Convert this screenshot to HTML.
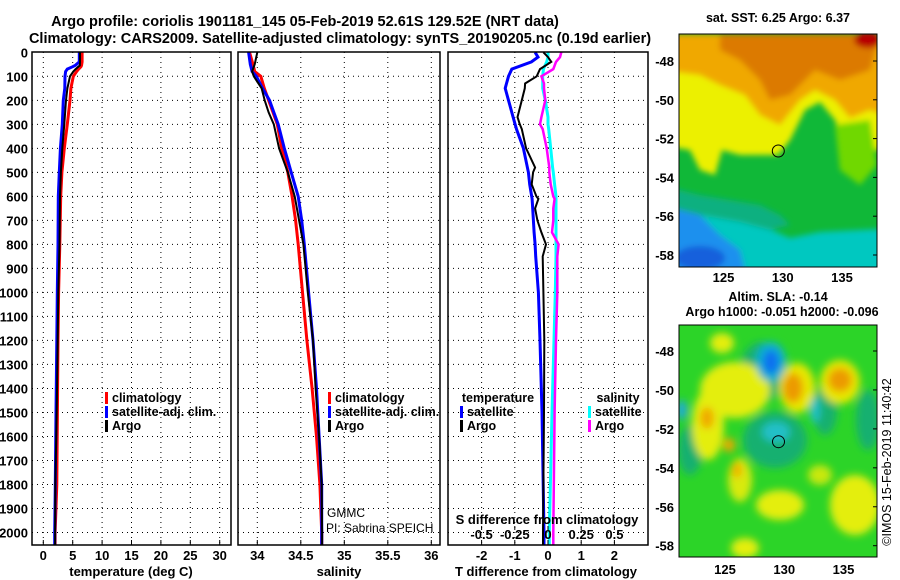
<!DOCTYPE html>
<html><head><meta charset="utf-8">
<style>
html,body{margin:0;padding:0;background:#fff;}
svg{display:block;font-family:"Liberation Sans",Arial,sans-serif;}
.b{font-weight:bold;}
</style></head>
<body>
<svg id="chart" width="900" height="580" viewBox="0 0 900 580" xmlns="http://www.w3.org/2000/svg">
<defs>
<filter id="bl" x="-20%" y="-20%" width="140%" height="140%"><feGaussianBlur stdDeviation="3"/></filter>
<filter id="bl2" x="-20%" y="-20%" width="140%" height="140%"><feGaussianBlur stdDeviation="4"/></filter>
<clipPath id="c1"><rect x="679" y="34" width="198" height="233"/></clipPath>
<clipPath id="c2"><rect x="679" y="325" width="198" height="232"/></clipPath>
<clipPath id="p1c"><rect x="32" y="52" width="199" height="493"/></clipPath>
<clipPath id="p2c"><rect x="238" y="52" width="202" height="493"/></clipPath>
<clipPath id="p3c"><rect x="448" y="52" width="200" height="493"/></clipPath>
</defs>
<text class="b" x="305" y="26" font-size="14.5" text-anchor="middle">Argo profile: coriolis 1901181_145 05-Feb-2019 52.61S 129.52E (NRT data)</text>
<text class="b" x="340" y="43" font-size="14.5" text-anchor="middle">Climatology: CARS2009. Satellite-adjusted climatology: synTS_20190205.nc (0.19d earlier)</text>
<g id="grid"></g>
<g id="series"></g>
<g id="frames"></g>
<g id="labels"></g>

<!-- map 1 : SST -->
<text class="b" x="778" y="22" font-size="12.5" text-anchor="middle">sat. SST: 6.25 Argo: 6.37</text>
<g clip-path="url(#c1)">
<rect x="679" y="34" width="198" height="233" fill="#10b838"/>
<g filter="url(#bl)">
<path d="M660,200 L700,205 L730,215 L760,225 L790,238 L820,232 L900,228 L900,290 L660,290Z" fill="#00c8c0"/>
<path d="M660,185 L700,195 L730,200 L760,205 L780,215 L790,225 L770,230 L740,222 L700,215 L660,215Z" fill="#10b080"/>
<path d="M660,205 L700,215 L720,235 L740,250 L750,290 L660,290Z" fill="#1f90ee"/>
<ellipse cx="700" cy="258" rx="25" ry="12" fill="#1460dc"/>
<path d="M660,60 L900,60 L900,150 L860,150 L845,145 L835,120 L820,102 L805,110 L790,140 L778,155 L740,155 L722,150 L715,175 L700,170 L690,150 L660,145Z" fill="#ecf000"/>
<path d="M835,125 L870,120 L877,165 L860,185 L840,170Z" fill="#70d800"/>
<path d="M660,34 L900,34 L900,120 L870,110 L850,118 L835,100 L815,90 L800,100 L780,125 L760,115 L745,95 L720,85 L700,75 L660,70Z" fill="#f0a800"/>
<path d="M720,34 L880,34 L870,70 L840,80 L815,70 L790,95 L770,100 L760,80 L740,60 L720,50Z" fill="#dc7a00"/>
<ellipse cx="868" cy="40" rx="14" ry="8" fill="#b80000"/>
</g>
<circle cx="778.3" cy="151" r="6" fill="none" stroke="#000" stroke-width="1"/>
</g>
<rect x="679" y="34" width="198" height="233" fill="none" stroke="#000" stroke-width="1"/>

<!-- map 2 : SLA -->
<text class="b" x="778" y="301" font-size="12.5" text-anchor="middle">Altim. SLA: -0.14</text>
<text class="b" x="782" y="316" font-size="12.5" text-anchor="middle">Argo h1000: -0.051 h2000: -0.096</text>
<g clip-path="url(#c2)">
<rect x="679" y="325" width="198" height="232" fill="#2cd428"/>
<g filter="url(#bl2)">
<ellipse cx="775" cy="440" rx="32" ry="28" fill="#18b070"/>
<ellipse cx="762" cy="372" rx="22" ry="30" fill="#18b070"/>
<ellipse cx="825" cy="410" rx="12" ry="25" fill="#18b070"/>
<ellipse cx="690" cy="450" rx="12" ry="25" fill="#18b070"/>
<ellipse cx="868" cy="420" rx="12" ry="30" fill="#18b070"/>
<ellipse cx="735" cy="390" rx="35" ry="28" fill="#e4ee10"/>
<ellipse cx="708" cy="425" rx="16" ry="35" fill="#e4ee10"/>
<ellipse cx="740" cy="480" rx="12" ry="22" fill="#d8ea10"/>
<ellipse cx="855" cy="505" rx="25" ry="30" fill="#e4ee10"/>
<ellipse cx="780" cy="505" rx="24" ry="15" fill="#e4ee10"/>
<ellipse cx="820" cy="475" rx="12" ry="10" fill="#c8e810"/>
<ellipse cx="745" cy="548" rx="14" ry="10" fill="#e4ee10"/>
<ellipse cx="722" cy="343" rx="12" ry="10" fill="#e4ee10"/>
<ellipse cx="797" cy="388" rx="18" ry="25" fill="#e8e800"/>
<ellipse cx="840" cy="382" rx="20" ry="22" fill="#e8e800"/>
<ellipse cx="793" cy="388" rx="10" ry="15" fill="#ec9a00"/>
<ellipse cx="840" cy="380" rx="12" ry="12" fill="#ec9a00"/>
<ellipse cx="707" cy="418" rx="7" ry="11" fill="#f0a800"/>
<ellipse cx="729" cy="445" rx="6" ry="7" fill="#f0a800"/>
<ellipse cx="737" cy="470" rx="5" ry="8" fill="#f0b000"/>
<ellipse cx="771" cy="362" rx="15" ry="20" fill="#10b0d0"/>
<ellipse cx="771" cy="362" rx="8" ry="12" fill="#1070f0"/>
<ellipse cx="776" cy="432" rx="14" ry="10" fill="#20c0c8"/>
<ellipse cx="815" cy="410" rx="5" ry="13" fill="#20c0c8"/>
<ellipse cx="682" cy="410" rx="5" ry="10" fill="#20a8e0"/>
</g>
<circle cx="778.5" cy="441.7" r="6" fill="none" stroke="#000" stroke-width="1"/>
</g>
<rect x="679" y="325" width="198" height="232" fill="none" stroke="#000" stroke-width="1"/>
<text x="891" y="462" font-size="12.5" text-anchor="middle" transform="rotate(-90 891 462)">©IMOS 15-Feb-2019 11:40:42</text>
<g id="maplabels"></g>
</svg>
<script>
// ---- data ----
const depthT = [0,40,55,60,70,80,100,150,200,300,400,500,600,800,1000,1200,1500,1800,2000,2050];
const tempArgo = [6.25,6.25,6.2,5.95,5.5,5.1,4.54,4.1,3.86,3.57,3.23,3.0,2.84,2.75,2.55,2.45,2.28,2.04,2.0,2.0];
const tempClim = [6.6,6.6,6.5,6.4,6.0,5.67,5.1,4.7,4.54,4.08,3.57,3.17,2.96,2.8,2.6,2.5,2.4,2.3,2.0,2.0];
const tempSat = [6.13,6.13,5.4,5.0,4.08,3.8,3.69,3.65,3.4,3.23,2.9,2.72,2.55,2.5,2.38,2.3,2.16,2.04,1.94,1.94];
const depthS = [0,50,80,100,150,200,250,300,400,450,500,600,700,800,1000,1200,1400,1600,1800,2000,2050];
const salArgo = [34.0,33.97,33.94,33.96,34.05,34.085,34.13,34.19,34.25,34.3,34.35,34.43,34.48,34.53,34.58,34.64,34.67,34.71,34.74,34.745,34.745];
const salClim = [33.91,33.95,33.97,34.04,34.08,34.13,34.18,34.23,34.28,34.32,34.35,34.40,34.44,34.47,34.52,34.57,34.63,34.68,34.72,34.74,34.74];
const salSat = [33.9,33.92,33.94,33.99,34.06,34.14,34.19,34.24,34.31,34.35,34.39,34.47,34.51,34.54,34.59,34.64,34.68,34.71,34.74,34.74,34.74];
const depthD = [0,20,40,70,100,130,150,200,270,300,320,400,480,500,550,600,610,650,700,750,800,850,1000,1200,1500,2000,2050];
const dTArgo = [-0.14,0,0.1,-0.24,-0.34,-0.69,-0.7,-0.79,-0.92,-0.85,-0.79,-0.66,-0.39,-0.45,-0.49,-0.35,-0.29,-0.39,-0.32,-0.2,-0.06,-0.16,-0.14,-0.11,-0.12,-0.15,-0.15];
const dTSat = [-0.39,-0.3,-0.5,-1.09,-1.19,-1.25,-1.29,-1.19,-1.05,-0.99,-0.95,-0.74,-0.62,-0.59,-0.55,-0.49,-0.48,-0.46,-0.44,-0.42,-0.39,-0.37,-0.29,-0.24,-0.18,-0.12,-0.12];
const dSArgo = [0.10,0.09,0.06,0.04,-0.05,-0.03,-0.03,-0.02,-0.05,-0.06,-0.04,-0.01,0.01,0.01,0.02,0.04,0.05,0.04,0.04,0.03,0.08,0.07,0.07,0.06,0.05,0.04,0.04];
const dSSat = [0,0,-0.01,-0.035,-0.04,-0.04,-0.04,-0.02,0,0,0.005,0.02,0.035,0.04,0.05,0.06,0.06,0.06,0.06,0.06,0.06,0.06,0.055,0.045,0.03,0.01,0.01];
const depthTicks = [0,100,200,300,400,500,600,700,800,900,1000,1100,1200,1300,1400,1500,1600,1700,1800,1900,2000];
const tempTicks = [0,5,10,15,20,25,30];
const salTicks = [34,34.5,35,35.5,36];
const salTickLabels = ["34","34.5","35","35.5","36"];
const dTTicks = [-2,-1,0,1,2];
const dSTicks = [-0.5,-0.25,0,0.25,0.5];
const dSTickLabels = ["-0.5","-0.25","0","0.25","0.5"];
const latTicks = [-48,-50,-52,-54,-56,-58];
const lonTicks = [125,130,135];

// ---- scales ----
const yD = d => 52.3 + d*0.2401;
const xT = v => 43.3 + v*5.88;
const xS = v => 257.3 + (v-34)*87;
const xdT = v => 548 + v*33.2;
const xdS = v => 548 + v*132.8;
const lon1 = v => 723.5 + (v-125)*11.85;
const lat1 = v => 61 + (-48 - v)*19.4;
const lat2 = v => 351 + (-48 - v)*19.47;

const NS = "http://www.w3.org/2000/svg";
function mk(tag, attrs, parent, txt){
  const e = document.createElementNS(NS, tag);
  for (const k in attrs) e.setAttribute(k, attrs[k]);
  if (txt !== undefined) e.textContent = txt;
  parent.appendChild(e);
  return e;
}
const G = document.getElementById('grid'), S = document.getElementById('series'),
      F = document.getElementById('frames'), L = document.getElementById('labels'),
      M = document.getElementById('maplabels');
const panels = [{x0:32,x1:231},{x0:238,x1:440},{x0:448,x1:648}];
const yTop=52, yBot=545;
const dot = {stroke:'#000','stroke-width':1,'stroke-dasharray':'1 4'};
panels.forEach((p,i)=>{
  depthTicks.forEach(d=>{ if(d>0){ const l=mk('line',Object.assign({x1:p.x0,x2:p.x1,y1:yD(d),y2:yD(d)},dot),G);
    
     }});
  const r = mk('rect',{x:p.x0,y:yTop,width:p.x1-p.x0,height:yBot-yTop,fill:'none',stroke:'#000','stroke-width':1.5},F);
  
  
});
function vgrid(vals, fx){ vals.forEach(v=>{ const l=mk('line',Object.assign({x1:fx(v),x2:fx(v),y1:yTop,y2:yBot},dot),G);
  
   }); }
vgrid(tempTicks,xT); vgrid(salTicks,xS); vgrid(dTTicks,xdT);

depthTicks.forEach(d=>{
  const t = mk('text',{x:28,y:yD(d)+5,'font-size':13,'font-weight':'bold','text-anchor':'end'},L,String(d));
  
  
});
function xlabels(vals, labs, fx, y){
  vals.forEach((v,i)=>{ const t=mk('text',{x:fx(v),y:y,'font-size':13,'font-weight':'bold','text-anchor':'middle'},L,labs[i]);
    
    
    const k=mk('line',{x1:fx(v),x2:fx(v),y1:yBot,y2:yBot-5,stroke:'#000','stroke-width':1},F);
    
     });
}
xlabels(tempTicks, tempTicks.map(String), xT, 560);
xlabels(salTicks, salTickLabels, xS, 560);
xlabels(dTTicks, dTTicks.map(String), xdT, 560);
dSTicks.forEach((v,i)=>{
  const t=mk('text',{x:xdS(v),y:539,'font-size':13,'font-weight':'bold','text-anchor':'middle'},L,dSTickLabels[i]);
  
  
  const k=mk('line',{x1:xdS(v),x2:xdS(v),y1:530,y2:526,stroke:'#000','stroke-width':1},F);
  
  
});
function title(x,y,s,name,sz){ const t=mk('text',{x:x,y:y,'font-size':sz||13,'font-weight':'bold','text-anchor':'middle'},L,s);
  
   }
title(131,576,'temperature (deg C)','temperature-axis-title');
title(339,576,'salinity','salinity-axis-title');
title(546,576,'T difference from climatology','t-diff-axis-title');
title(547,524,'S difference from climatology','s-diff-axis-title');

function line(ds, vs, fx, color, w, clip, name){
  const pts = ds.map((d,i)=>fx(vs[i]).toFixed(1)+','+yD(d).toFixed(1)).join(' ');
  const p = mk('polyline',{points:pts,fill:'none',stroke:color,'stroke-width':w,'stroke-linejoin':'miter','clip-path':'url(#'+clip+')'},S);
  
  
}
line(depthT,tempClim,xT,'#ff0000',3,'p1c','temperature-climatology-line');
line(depthT,tempSat,xT,'#0000ff',3,'p1c','temperature-satellite-line');
line(depthT,tempArgo,xT,'#000000',2,'p1c','temperature-argo-line');
line(depthS,salClim,xS,'#ff0000',3,'p2c','salinity-climatology-line');
line(depthS,salSat,xS,'#0000ff',3,'p2c','salinity-satellite-line');
line(depthS,salArgo,xS,'#000000',2,'p2c','salinity-argo-line');
line(depthD,dSSat,xdS,'#00ffff',3,'p3c','s-diff-satellite-line');
line(depthD,dSArgo,xdS,'#ff00ff',2.5,'p3c','s-diff-argo-line');
line(depthD,dTSat,xdT,'#0000ff',3,'p3c','t-diff-satellite-line');
line(depthD,dTArgo,xdT,'#000000',2,'p3c','t-diff-argo-line');

function leg(x,y,color,label,name){
  const r=mk('rect',{x:x,y:y-10,width:3,height:12,fill:color},L);
  
  
  const t=mk('text',{x:x+7,y:y,'font-size':12.5,'font-weight':'bold'},L,label);
  
  
}
[['#ff0000','climatology'],['#0000ff','satellite-adj. clim.'],['#000000','Argo']].forEach((e,i)=>leg(105,402+i*14,e[0],e[1],'temp-legend-entry'));
[['#ff0000','climatology'],['#0000ff','satellite-adj. clim.'],['#000000','Argo']].forEach((e,i)=>leg(328,402+i*14,e[0],e[1],'sal-legend-entry'));
title(498,402,'temperature','diff-legend-temperature-heading',12.5);
title(618,402,'salinity','diff-legend-salinity-heading',12.5);
leg(460,416,'#0000ff','satellite','diff-legend-t-satellite');
leg(460,430,'#000000','Argo','diff-legend-t-argo');
leg(588,416,'#00ffff','satellite','diff-legend-s-satellite');
leg(588,430,'#ff00ff','Argo','diff-legend-s-argo');
const g1=mk('text',{x:327,y:517,'font-size':12},L,'GMMC');


const g2=mk('text',{x:326,y:532,'font-size':12},L,'PI: Sabrina SPEICH');



function maplab(latf, lonBase, yb){
  latTicks.forEach(v=>{
    const t=mk('text',{x:674,y:latf(v)+5,'font-size':13,'font-weight':'bold','text-anchor':'end'},M,String(v));
    
    
    const k=mk('line',{x1:877,x2:873,y1:latf(v),y2:latf(v),stroke:'#000'},M);
    
    
  });
  lonTicks.forEach(v=>{
    const t=mk('text',{x:lonBase(v),y:yb,'font-size':13,'font-weight':'bold','text-anchor':'middle'},M,String(v));
    
    
  });
}
maplab(lat1, lon1, 282);
maplab(lat2, v=>lon1(v)+1.5, 574);
</script>
</body></html>
